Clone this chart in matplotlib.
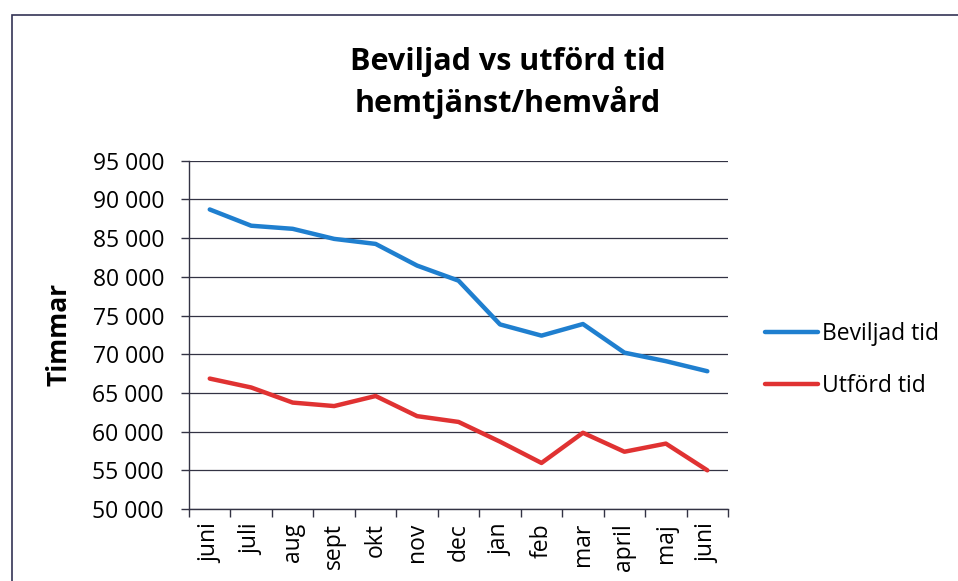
import matplotlib
matplotlib.use("Agg")
import matplotlib.pyplot as plt
from matplotlib.patches import Rectangle
from matplotlib.ticker import FuncFormatter, FixedLocator

plt.rcParams['font.family'] = ['Open Sans', 'DejaVu Sans']

# Data
months = ["juni", "juli", "aug", "sept", "okt", "nov", "dec",
          "jan", "feb", "mar", "april", "maj", "juni"]
beviljad = [88700, 86600, 86200, 84900, 84250, 81450, 79500,
            73850, 72400, 73900, 70200, 69100, 67800]
utford = [66850, 65700, 63750, 63300, 64600, 62000, 61250,
          58700, 55950, 59850, 57400, 58450, 55000]
y_ticks = list(range(50000, 95001, 5000))

fig = plt.figure(figsize=(9.58, 5.81), dpi=100)
ax = fig.add_axes([0.1973, 0.1239, 0.5627, 0.5995])

x = list(range(len(months)))
ax.plot(x, beviljad, color="#1f7fcf", linewidth=3.2, label="Beviljad tid",
        solid_joinstyle="round", solid_capstyle="round")
ax.plot(x, utford, color="#e03232", linewidth=3.2, label="Utförd tid",
        solid_joinstyle="round", solid_capstyle="round")

ax.set_xlim(-0.5, len(months) - 0.5)
ax.set_ylim(50000, 95000)
ax.set_yticks(y_ticks)
ax.yaxis.set_major_formatter(FuncFormatter(lambda v, p: f"{int(v):,}".replace(",", " ")))
ax.grid(axis="y", color="#333344", linewidth=0.9)
ax.set_axisbelow(True)

ax.set_xticks(x)
ax.set_xticklabels(months, rotation=90, fontsize=16.5)
ax.tick_params(axis="x", which="major", length=0, pad=10)
ax.xaxis.set_minor_locator(FixedLocator([i - 0.5 for i in range(len(months) + 1)]))
ax.tick_params(axis="x", which="minor", length=6, width=1, color="#333344", direction="out")
ax.tick_params(axis="y", labelsize=16.5, length=6, width=1, color="#333344", pad=12)

for s in ["top", "right"]:
    ax.spines[s].set_visible(False)
for s in ["left", "bottom"]:
    ax.spines[s].set_color("#333344")
    ax.spines[s].set_linewidth(1)

ax.set_ylabel("Timmar", fontsize=19, fontweight="bold", labelpad=14)

fig.text(0.53, 1 - 83 / 581, "Beviljad vs utförd tid\nhemtjänst/hemvård", ha="center", va="center",
         fontsize=22, fontweight="bold", linespacing=1.35)

fig.legend(loc="center left", bbox_to_anchor=(765 / 958, 1 - 360 / 581), frameon=False,
           fontsize=16.5, handlelength=2.3, handletextpad=0.2, labelspacing=1.25,
           borderpad=0, borderaxespad=0)

fig.add_artist(Rectangle((12 / 958, -0.1), 1.2, 1 - 15 / 581 + 0.1, transform=fig.transFigure,
                         fill=False, edgecolor="#333355", linewidth=1.2))

fig.savefig("out.png", dpi=100)
